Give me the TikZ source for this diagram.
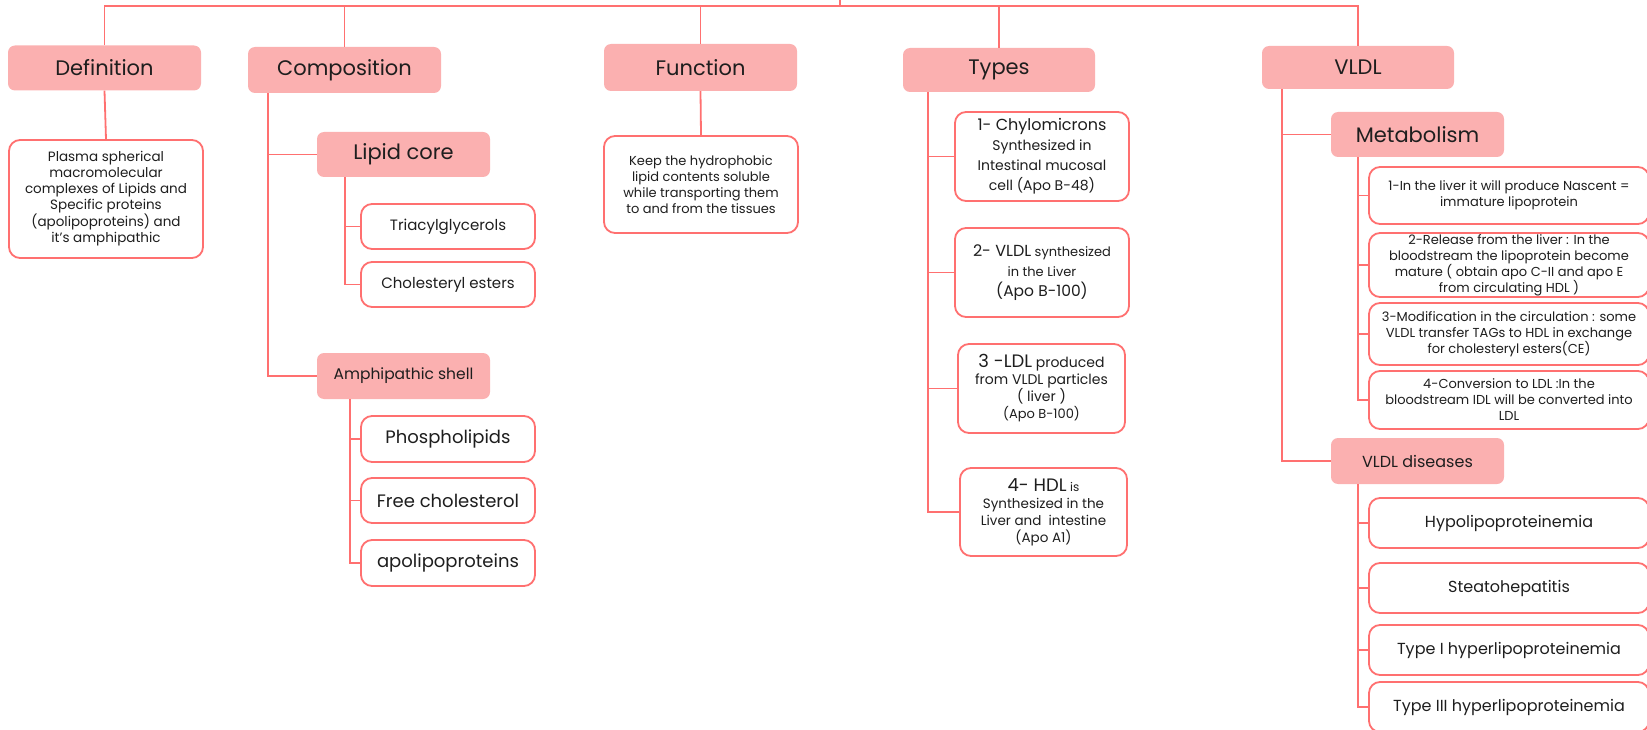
\documentclass[tikz,border=0pt]{standalone}
\usepackage{fontspec}
\setmainfont{Poppins}
\usepackage{tikz}

\definecolor{boxpink}{RGB}{251,176,176}
\definecolor{linepink}{RGB}{255,112,112}
\definecolor{txtgray}{RGB}{30,30,30}
\newcommand{\fsz}[2]{\fontsize{#1}{#2}\selectfont}

\begin{document}
\begin{tikzpicture}[x=1pt,y=-1pt,
    head/.style={fill=boxpink, rounded corners=7pt, inner sep=0pt, align=center, text=txtgray},
    leaf/.style={draw=linepink, line width=1.8pt, fill=white, rounded corners=11pt, inner sep=0pt, align=center, text=txtgray},
    conn/.style={draw=linepink, line width=1.8pt}]

            \useasboundingbox (0,0) rectangle (1647,730);
            \clip (0,0) rectangle (1647,730);

            % top level
            \node[head, minimum width=193, minimum height=45, font=\fsz{21}{25}] (def) at (104.5,68) {Definition};
            \node[head, minimum width=193, minimum height=46, font=\fsz{21}{25}] (comp) at (344.5,70) {Composition};
            \node[head, minimum width=193, minimum height=47, font=\fsz{21}{25}] (func) at (700.5,67.5) {Function};
            \node[head, minimum width=192, minimum height=44, font=\fsz{21}{25}] (types) at (999,70) {Types};
            \node[head, minimum width=192, minimum height=43, font=\fsz{21}{25}] (vldl) at (1358,67.5) {VLDL};

            \coordinate (root) at (840,-2);
            \coordinate (bus) at (840,6);
            \draw[conn] (root) -- (bus);
            \draw[conn] (def.north) |- (bus) -| (vldl.north);
            \draw[conn] (comp.north) -- (comp.north |- bus);
            \draw[conn] (func.north) -- (func.north |- bus);
            \draw[conn] (types.north) -- (types.north |- bus);

            % definition
            \node[leaf, minimum width=194, minimum height=118, font=\fsz{13.5}{16}] (deftext) at (106,199)
                {Plasma spherical\\macromolecular\\complexes of Lipids and\\Specific proteins\\(apolipoproteins) and\\it's amphipathic};
            \draw[conn] (def.south) -- (deftext.north);

            % composition
            \node[head, minimum width=173, minimum height=45, font=\fsz{21}{25}] (lipid) at (403.5,154.5) {Lipid core};
            \node[leaf, minimum width=174, minimum height=45, font=\fsz{15}{18}] (triacyl) at (448,226.5) {Triacylglycerols};
            \node[leaf, minimum width=174, minimum height=45, font=\fsz{15}{18}] (chol) at (448,284.5) {Cholesteryl esters};
            \node[head, minimum width=173, minimum height=46, font=\fsz{15.5}{18}] (amph) at (403.5,376) {Amphipathic shell};
            \node[leaf, minimum width=174, minimum height=46, font=\fsz{18}{21}] (phos) at (448,439) {Phospholipids};
            \node[leaf, minimum width=174, minimum height=45, font=\fsz{18}{21}] (free) at (448,500.5) {Free cholesterol};
            \node[leaf, minimum width=174, minimum height=46, font=\fsz{18}{21}] (apo) at (448,563) {apolipoproteins};

            \draw[conn] ([xshift=20]comp.south west) |- (lipid.west);
            \draw[conn] ([xshift=20]comp.south west) |- (amph.west);
            \draw[conn] ([xshift=28]lipid.south west) |- (triacyl.west);
            \draw[conn] ([xshift=28]lipid.south west) |- (chol.west);
            \draw[conn] ([xshift=33]amph.south west) |- (phos.west);
            \draw[conn] ([xshift=33]amph.south west) |- (free.west);
            \draw[conn] ([xshift=33]amph.south west) |- (apo.west);

            % function
            \node[leaf, minimum width=194, minimum height=97, font=\fsz{13}{16}] (functext) at (701,184.5)
                {Keep the hydrophobic\\lipid contents soluble\\while transporting them\\to and from the tissues};
            \draw[conn] (func.south) -- (functext.north);

            % types
            \node[leaf, minimum width=174, minimum height=89, font=\fsz{14}{20}] (chylo) at (1042,156.5)
                {{\fsz{16}{20}1- Chylomicrons}\\Synthesized in\\Intestinal mucosal\\cell (Apo B-48)};
            \node[leaf, minimum width=174, minimum height=89, font=\fsz{13}{20}] (vldltype) at (1042,272.5)
                {{\fsz{16}{20}2- VLDL} synthesized\\in the Liver\\{\fsz{15.5}{20}(Apo B-100)}};
            \node[leaf, minimum width=167, minimum height=89, font=\fsz{14}{17}] (ldltype) at (1041.5,388.5)
                {{\fsz{18}{17}3 -LDL} produced\\from VLDL particles\\( liver )\\{\fsz{13}{17}(Apo B-100)}};
            \node[leaf, minimum width=167, minimum height=88, font=\fsz{13.5}{17}] (hdltype) at (1043.5,512)
                {{\fsz{18}{17}4- HDL} {\fsz{12}{17}is}\\Synthesized in the\\Liver and\ \ intestine\\(Apo A1)};

            \draw[conn] ([xshift=25]types.south west) |- (chylo.west);
            \draw[conn] ([xshift=25]types.south west) |- (vldltype.west);
            \draw[conn] ([xshift=25]types.south west) |- (ldltype.west);
            \draw[conn] ([xshift=25]types.south west) |- (hdltype.west);

            % vldl
            \node[head, minimum width=173, minimum height=45, font=\fsz{21}{25}] (metab) at (1417.5,134.5) {Metabolism};
            \node[leaf, minimum width=280, minimum height=57, font=\fsz{13}{16}] (step1) at (1509,195.5)
                {1-In the liver it will produce Nascent =\\immature lipoprotein};
            \node[leaf, minimum width=280, minimum height=64, font=\fsz{13}{16}] (step2) at (1509,265)
                {2-Release from the liver : In the\\bloodstream the lipoprotein become\\mature ( obtain apo C-II and apo E\\from circulating HDL )};
            \node[leaf, minimum width=280, minimum height=62, font=\fsz{13}{16}] (step3) at (1509,334)
                {3-Modification in the circulation : some\\VLDL transfer TAGs to HDL in exchange\\for cholesteryl esters(CE)};
            \node[leaf, minimum width=280, minimum height=58, font=\fsz{13}{16}] (step4) at (1509,400)
                {4-Conversion to LDL :In the\\bloodstream IDL will be converted into\\LDL};

            \node[head, minimum width=173, minimum height=46, font=\fsz{16}{19}] (vdis) at (1417.5,461) {VLDL diseases};
            \node[leaf, minimum width=280, minimum height=50, font=\fsz{16}{19}] (hypo) at (1509,523) {Hypolipoproteinemia};
            \node[leaf, minimum width=280, minimum height=50, font=\fsz{16}{19}] (steato) at (1509,588) {Steatohepatitis};
            \node[leaf, minimum width=280, minimum height=50, font=\fsz{16}{19}] (hyperone) at (1509,650) {Type I hyperlipoproteinemia};
            \node[leaf, minimum width=280, minimum height=50, font=\fsz{16}{19}] (hyperthree) at (1509,707) {Type III hyperlipoproteinemia};

            \draw[conn] ([xshift=20]vldl.south west) |- (metab.west);
            \draw[conn] ([xshift=20]vldl.south west) |- (vdis.west);
            \draw[conn] ([xshift=27]metab.south west) |- (step1.west);
            \draw[conn] ([xshift=27]metab.south west) |- (step2.west);
            \draw[conn] ([xshift=27]metab.south west) |- (step3.west);
            \draw[conn] ([xshift=27]metab.south west) |- (step4.west);
            \draw[conn] ([xshift=27]vdis.south west) |- (hypo.west);
            \draw[conn] ([xshift=27]vdis.south west) |- (steato.west);
            \draw[conn] ([xshift=27]vdis.south west) |- (hyperone.west);
            \draw[conn] ([xshift=27]vdis.south west) |- (hyperthree.west);

\end{tikzpicture}
\end{document}
